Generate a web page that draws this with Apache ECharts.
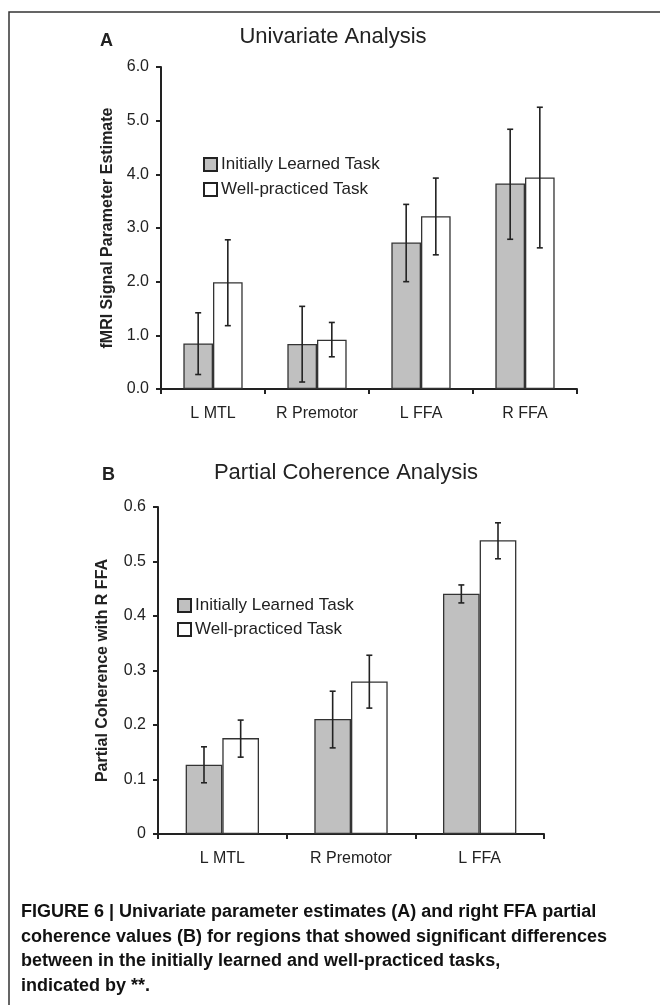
<!DOCTYPE html>
<html>
<head>
<meta charset="utf-8">
<script src="https://cdn.jsdelivr.net/npm/echarts@6/dist/echarts.min.js"></script>
<style>
html, body { margin: 0; padding: 0; background: #fff; }
#echart { width: 660px; height: 1005px; }
</style>
</head>
<body>
<div id="echart"></div>
<script>
// panel A: univariate analysis
let regionsA = ['L MTL', 'R Premotor', 'L FFA', 'R FFA'];
let initialA = [0.85, 0.84, 2.73, 3.83];
let initialALow = [0.27, 0.13, 2.00, 2.79];
let initialAHigh = [1.42, 1.54, 3.44, 4.84];
let practicedA = [1.99, 0.92, 3.22, 3.94];
let practicedALow = [1.18, 0.60, 2.50, 2.63];
let practicedAHigh = [2.78, 1.24, 3.93, 5.25];

// panel B: partial coherence with R FFA
let regionsB = ['L MTL', 'R Premotor', 'L FFA'];
let initialB = [0.127, 0.211, 0.441];
let initialBLow = [0.094, 0.158, 0.424];
let initialBHigh = [0.160, 0.262, 0.457];
let practicedB = [0.176, 0.280, 0.539];
let practicedBLow = [0.141, 0.231, 0.505];
let practicedBHigh = [0.209, 0.328, 0.571];

let seriesNames = ['Initially Learned Task', 'Well-practiced Task'];
let captionLines = [
	'FIGURE 6 | Univariate parameter estimates (A) and right FFA partial',
	'coherence values (B) for regions that showed significant differences',
	'between in the initially learned and well-practiced tasks,',
	'indicated by **.'
];

let FONT = 'Liberation Sans, Arial, Helvetica, sans-serif';
let INK = '#222';
let GAP = 0.43;

function errData(low, high) {
	return low.map((v, i) => [i, v, high[i]]);
}

// error bar drawn next to the bar it belongs to (side -1 left, +1 right)
function errRenderer(side) {
	return function(params, api) {
		let idx = api.value(0);
		let lo = api.coord([idx, api.value(1)]);
		let hi = api.coord([idx, api.value(2)]);
		let barW = api.size([1, 0])[0] * (1 - GAP) / 2;
		let x = lo[0] + side * barW / 2;
		let cap = 3;
		let style = { stroke: INK, lineWidth: 1.6 };
		return {
			type: 'group',
			children: [
				{ type: 'line', shape: { x1: x, y1: lo[1], x2: x, y2: hi[1] }, style: style },
				{ type: 'line', shape: { x1: x - cap, y1: lo[1], x2: x + cap, y2: lo[1] }, style: style },
				{ type: 'line', shape: { x1: x - cap, y1: hi[1], x2: x + cap, y2: hi[1] }, style: style }
			]
		};
	};
}

function xAxisFor(data, gridIndex) {
	return {
		type: 'category',
		gridIndex: gridIndex,
		data: data,
		axisLine: { lineStyle: { color: INK, width: 2 } },
		axisTick: { show: true, length: 5, lineStyle: { color: INK, width: 2 } },
		axisLabel: { color: INK, fontSize: 16, fontFamily: FONT, margin: 17, interval: 0 }
	};
}

function yAxisFor(gridIndex, max, interval, name, gap, fmt) {
	return {
		type: 'value',
		gridIndex: gridIndex,
		min: 0,
		max: max,
		interval: interval,
		name: name,
		nameLocation: 'middle',
		nameGap: gap,
		nameTextStyle: { color: INK, fontSize: 16, fontWeight: 'bold', fontFamily: FONT },
		splitLine: { show: false },
		axisLine: { show: true, lineStyle: { color: INK, width: 2 } },
		axisTick: { show: true, length: 5, lineStyle: { color: INK, width: 2 } },
		axisLabel: { color: INK, fontSize: 16, fontFamily: FONT, margin: 12, formatter: fmt }
	};
}

function barSeries(name, data, color, axisIndex) {
	return {
		name: name,
		type: 'bar',
		xAxisIndex: axisIndex,
		yAxisIndex: axisIndex,
		data: data,
		barGap: '0%',
		barCategoryGap: (GAP * 100) + '%',
		itemStyle: { color: color, borderColor: '#333', borderWidth: 1.3 },
		emphasis: { disabled: true }
	};
}

function errSeries(name, low, high, side, axisIndex) {
	return {
		name: name,
		type: 'custom',
		xAxisIndex: axisIndex,
		yAxisIndex: axisIndex,
		data: errData(low, high),
		renderItem: errRenderer(side),
		z: 5,
		silent: true
	};
}

function legendAt(left, top, gap) {
	return {
		orient: 'vertical',
		left: left,
		top: top,
		padding: 0,
		itemWidth: 13,
		itemHeight: 13,
		itemGap: gap,
		selectedMode: false,
		textStyle: { color: INK, fontSize: 17, fontFamily: FONT, lineHeight: 16, padding: [0, 0, 0, -1] },
		data: [
			{ name: seriesNames[0], icon: 'rect', itemStyle: { color: '#c0c0c0', borderColor: INK, borderWidth: 2 } },
			{ name: seriesNames[1], icon: 'rect', itemStyle: { color: '#fff', borderColor: INK, borderWidth: 2 } }
		]
	};
}

function drawChart() {
	let dom = document.getElementById('echart');
	let myChart = echarts.init(dom, null, { renderer: 'canvas' });

	let option = {
		backgroundColor: '#fff',
		animation: false,
		grid: [
			{ left: 161, right: 83, top: 67, height: 322 },
			{ left: 158, right: 116, top: 507, height: 327 }
		],
		xAxis: [xAxisFor(regionsA, 0), xAxisFor(regionsB, 1)],
		yAxis: [
			yAxisFor(0, 6, 1, 'fMRI Signal Parameter Estimate', 44, v => v.toFixed(1)),
			yAxisFor(1, 0.6, 0.1, 'Partial Coherence with R FFA', 47, v => v === 0 ? '0' : v.toFixed(1))
		],
		legend: [legendAt(203, 156, 8), legendAt(177, 597, 7)],
		series: [
			barSeries(seriesNames[0], initialA, '#c0c0c0', 0),
			barSeries(seriesNames[1], practicedA, '#fff', 0),
			errSeries(seriesNames[0], initialALow, initialAHigh, -1, 0),
			errSeries(seriesNames[1], practicedALow, practicedAHigh, 1, 0),
			barSeries(seriesNames[0], initialB, '#c0c0c0', 1),
			barSeries(seriesNames[1], practicedB, '#fff', 1),
			errSeries(seriesNames[0], initialBLow, initialBHigh, -1, 1),
			errSeries(seriesNames[1], practicedBLow, practicedBHigh, 1, 1)
		],
		graphic: [
			{ type: 'rect', shape: { x: 9, y: 12, width: 700, height: 1100 }, style: { fill: 'none', stroke: '#333', lineWidth: 1.5 }, silent: true },
			{ type: 'text', x: 100, y: 41, style: { text: 'A', font: 'bold 18px ' + FONT, fill: INK, textVerticalAlign: 'middle' } },
			{ type: 'text', x: 333, y: 37, style: { text: 'Univariate Analysis', font: '22px ' + FONT, fill: INK, textAlign: 'center', textVerticalAlign: 'middle' } },
			{ type: 'text', x: 102, y: 475, style: { text: 'B', font: 'bold 18px ' + FONT, fill: INK, textVerticalAlign: 'middle' } },
			{ type: 'text', x: 346, y: 473, style: { text: 'Partial Coherence Analysis', font: '22px ' + FONT, fill: INK, textAlign: 'center', textVerticalAlign: 'middle' } },
			{ type: 'text', x: 21, y: 900, style: { text: captionLines.join('\n'), font: 'bold 18px ' + FONT, lineHeight: 24.6, fill: '#111', textVerticalAlign: 'top' } }
		]
	};

	myChart.setOption(option);
}

drawChart();
</script>
</body>
</html>
